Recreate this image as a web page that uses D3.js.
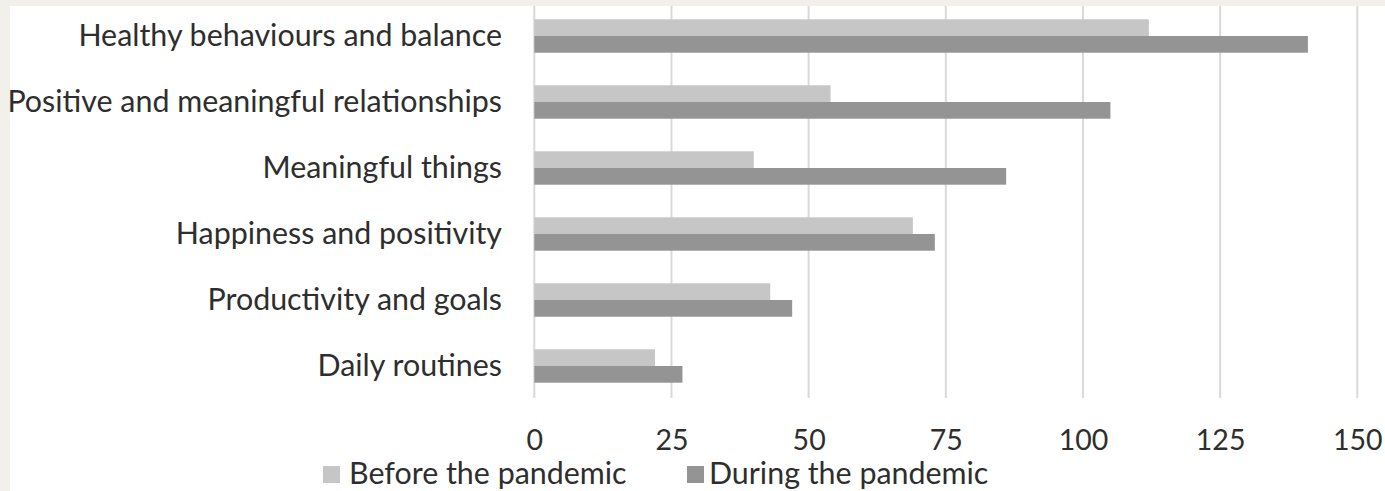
<!DOCTYPE html>
<html>
<head>
<meta charset="utf-8">
<script src="https://cdn.jsdelivr.net/npm/d3@7"></script>
<style>
  html, body { margin: 0; padding: 0; background: #f1f0ea; }
  svg { display: block; }
  text { font-family: Lato, "Open Sans", sans-serif; fill: #2e2e2e; }
</style>
</head>
<body>
<svg id="chart" width="1385" height="491"></svg>
<script>
// Themes of well-being, counted before and during the pandemic
const categories = [
  "Healthy behaviours and balance",
  "Positive and meaningful relationships",
  "Meaningful things",
  "Happiness and positivity",
  "Productivity and goals",
  "Daily routines"
];
const seriesNames = ["Before the pandemic", "During the pandemic"];
const beforeValues = [112, 54, 40, 69, 43, 22];
const duringValues = [141, 105, 86, 73, 47, 27];
const tickValues = [0, 25, 50, 75, 100, 125, 150];
const seriesColors = ["#c6c6c6", "#949494"];

const rows = categories.map((c, i) => ({ category: c, values: [beforeValues[i], duringValues[i]] }));

const svg = d3.select("#chart");

// white chart panel over the beige page
svg.append("rect")
  .attr("x", 10).attr("y", 6)
  .attr("width", 1385 - 10).attr("height", 491 - 6)
  .attr("fill", "#ffffff");

const x = d3.scaleLinear().domain([0, 150]).range([534.3, 1357.3]);
const y = d3.scaleBand().domain(categories).range([3, 399])
  .paddingInner(0.494).paddingOuter(0.247);
const ySub = d3.scaleBand().domain([0, 1]).range([0, y.bandwidth()]);

// vertical gridlines (the zero line doubles as the axis)
svg.append("g").selectAll("line")
  .data(tickValues)
  .join("line")
  .attr("x1", d => x(d)).attr("x2", d => x(d))
  .attr("y1", 6).attr("y2", 398)
  .attr("stroke", "#d9d9d9").attr("stroke-width", 2);

// bars
const groups = svg.append("g").selectAll("g")
  .data(rows)
  .join("g")
  .attr("transform", d => `translate(0,${y(d.category)})`);

groups.selectAll("rect")
  .data(d => d.values.map((v, k) => ({ v, k })))
  .join("rect")
  .attr("x", x(0))
  .attr("y", d => ySub(d.k))
  .attr("width", d => x(d.v) - x(0))
  .attr("height", ySub.bandwidth())
  .attr("fill", d => seriesColors[d.k]);

// category labels
svg.append("g").selectAll("text")
  .data(categories)
  .join("text")
  .attr("x", 502)
  .attr("y", d => y(d) + y.bandwidth() / 2 + 9.5)
  .attr("text-anchor", "end")
  .attr("font-size", 30.4)
  .text(d => d);

// value axis tick labels
const axis = d3.axisBottom(x).tickValues(tickValues).tickSize(0).tickPadding(0);
const axisG = svg.append("g")
  .attr("transform", "translate(0,429)")
  .call(axis);
axisG.select(".domain").remove();
axisG.selectAll("text")
  .attr("font-size", 28.5)
  .attr("dy", "0.72em")
  .style("font-family", "Lato, 'Open Sans', sans-serif")
  .attr("fill", "#2e2e2e");

// legend
const legendPos = [{ sx: 323, tx: 349 }, { sx: 687, tx: 709 }];
const legend = svg.append("g").selectAll("g")
  .data(seriesNames)
  .join("g");
legend.append("rect")
  .attr("x", (d, i) => legendPos[i].sx)
  .attr("y", 466)
  .attr("width", 17).attr("height", 17)
  .attr("fill", (d, i) => seriesColors[i]);
legend.append("text")
  .attr("x", (d, i) => legendPos[i].tx)
  .attr("y", 484)
  .attr("font-size", 30.4)
  .text(d => d);
</script>
</body>
</html>
